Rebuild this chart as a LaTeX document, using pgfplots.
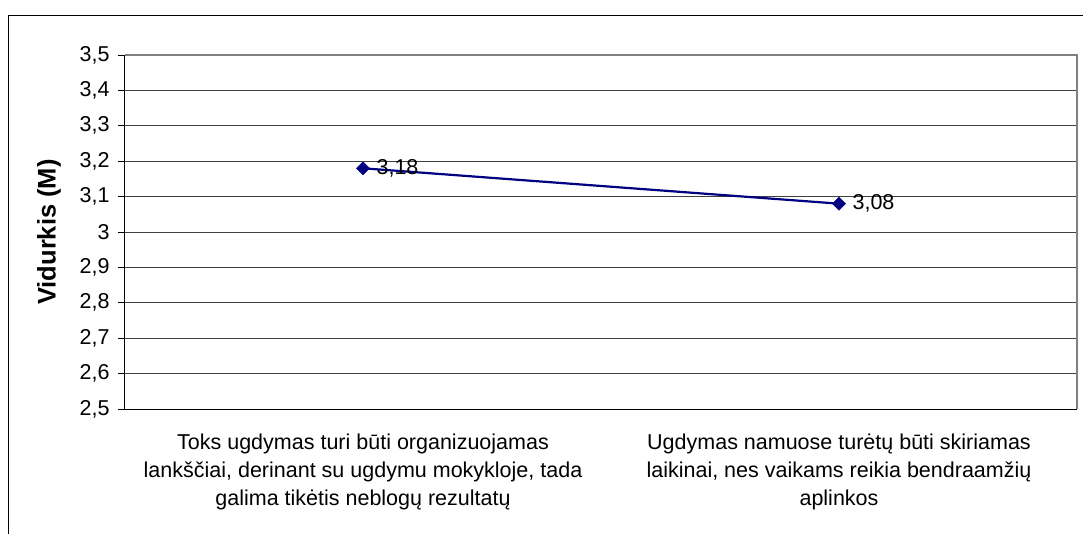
\documentclass[border=0pt]{standalone}
\usepackage{pgfplots}
\pgfplotsset{compat=1.18}
\usepackage{fontspec}
\setmainfont{Liberation Sans}
\definecolor{navyline}{RGB}{0,0,128}
\definecolor{gridc}{RGB}{64,64,64}
\definecolor{borderc}{RGB}{128,128,128}
\begin{document}
\begin{tikzpicture}
\path[use as bounding box] (-125bp,-125bp) rectangle (959bp,409bp);
\draw[black, line width=0.8bp] (-116.5bp,-126bp) -- (-116.5bp,394bp) -- (958bp,394bp);
\begin{axis}[
  at={(0,0)}, anchor=south west,
  scale only axis,
  width=952bp, height=354bp,
  xmin=-0.5, xmax=1.5,
  ymin=2.5, ymax=3.5,
  ytick={2.5,2.6,2.7,2.8,2.9,3.0,3.1,3.2,3.3,3.4,3.5},
  xtick={0,1},
  xticklabels={{Toks ugdymas turi būti organizuojamas\\lankščiai, derinant su ugdymu mokykloje, tada\\galima tikėtis neblogų rezultatų},
               {Ugdymas namuose turėtų būti skiriamas\\laikinai, nes vaikams reikia bendraamžių\\aplinkos}},
  x tick style={draw=none},
  extra x ticks={-0.5,0.5,1.5},
  extra x tick labels={},
  extra x tick style={grid=none, major tick length=8bp, tick style={draw=black, line width=0.8bp}},
  axis x line*=bottom,
  axis y line*=left,
  axis line style={-, black, line width=1bp},
  tick align=outside,
  major tick length=7bp,
  y tick style={black, line width=0.8bp},
  ymajorgrids=true,
  grid style={gridc, line width=0.9bp},
  /pgf/number format/assume math mode=true,
  /pgf/number format/use comma,
  yticklabel style={font=\fontsize{21.5bp}{24bp}\selectfont, xshift=-5bp, /pgf/number format/fixed, /pgf/number format/precision=1},
  xticklabel style={font=\fontsize{21.5bp}{28bp}\selectfont, align=center, anchor=north, yshift=-14bp},
  ylabel={Vidurkis (M)},
  ylabel style={font=\fontsize{25.5bp}{28bp}\selectfont\bfseries, at={([xshift=-76bp]axis description cs:0,0.5)}, anchor=center},
  clip=false,
]
\draw[borderc, line width=1.2bp] (axis description cs:0,1) -- (axis description cs:1,1) -- (axis description cs:1,0);
\addplot[navyline, line width=2.2bp, mark=square*, mark size=4.6bp,
  mark options={rotate=45, fill=navyline, draw=navyline, line width=0.5bp},
  nodes near coords,
  every node near coord/.append style={font=\fontsize{21.5bp}{24bp}\selectfont, text=black, anchor=west, xshift=10bp, /pgf/number format/fixed, /pgf/number format/precision=2, /pgf/number format/use comma}]
  coordinates {(0,3.18) (1,3.08)};
\end{axis}
\end{tikzpicture}
\end{document}
